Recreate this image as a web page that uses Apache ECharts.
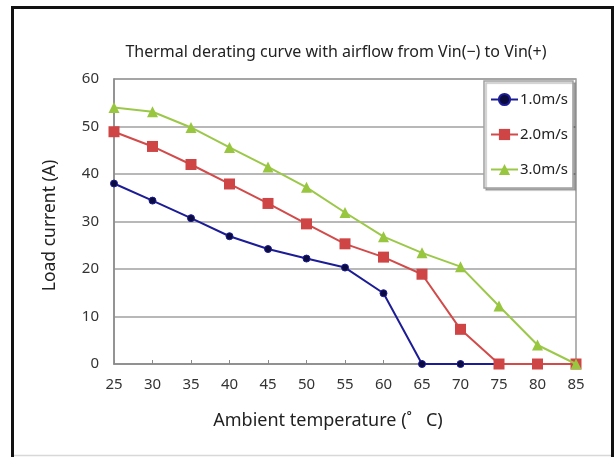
<!DOCTYPE html>
<html>
<head>
<meta charset="utf-8">
<script src="https://cdn.jsdelivr.net/npm/echarts@6/dist/echarts.min.js"></script>
<style>
html,body{margin:0;padding:0;background:#fff;}
#chart{width:615px;height:457px;}
</style>
</head>
<body>
<div id="chart"></div>
<script>
const temperatures = [25, 30, 35, 40, 45, 50, 55, 60, 65, 70, 75, 80, 85];
const airflow1 = [38.0, 34.4, 30.7, 26.9, 24.2, 22.2, 20.3, 14.9, 0, 0, 0, 0, 0];
const airflow2 = [48.9, 45.8, 42.0, 37.9, 33.8, 29.5, 25.3, 22.5, 18.9, 7.3, 0, 0, 0];
const airflow3 = [54.0, 53.1, 49.8, 45.6, 41.5, 37.2, 31.9, 26.8, 23.4, 20.5, 12.2, 4.0, 0];
const seriesNames = ['1.0m/s', '2.0m/s', '3.0m/s'];
const yTicks = [0, 10, 20, 30, 40, 50, 60];

const pair = arr => temperatures.map((t, i) => [t, arr[i]]);
const FONT = 'Noto Sans';

const chart = echarts.init(document.getElementById('chart'), null, {renderer: 'canvas'});
chart.setOption({
  animation: false,
  backgroundColor: '#fff',
  textStyle: {fontFamily: FONT},
  title: {
    text: 'Thermal derating curve with airflow from Vin(\u2212) to Vin(+)',
    left: 331, top: 39, textAlign: 'center',
    textStyle: {fontFamily: FONT, fontSize: 16, fontWeight: 'normal', color: '#222'}
  },
  grid: {left: 114, right: 39, top: 79, bottom: 93, containLabel: false,
    show: true, borderColor: '#9a9a9a', borderWidth: 1.5},
  legend: {
    orient: 'vertical', left: 484, top: 81,
    padding: [11, 5, 11, 6], itemGap: 20, itemWidth: 27, itemHeight: 14,
    backgroundColor: '#fff', borderColor: '#a0a0a0', borderWidth: 1.5,
    shadowColor: 'rgba(0,0,0,0.25)', shadowOffsetX: 2, shadowOffsetY: 2, shadowBlur: 1,
    textStyle: {fontFamily: FONT, fontSize: 15, color: '#222', padding: [0,0,0,-3]},
    data: seriesNames
  },
  xAxis: {
    type: 'value', min: 25, max: 85, interval: 5,
    name: 'Ambient temperature (\u02da   C)', nameLocation: 'middle', nameGap: 48,
    nameTextStyle: {fontFamily: FONT, fontSize: 18, color: '#222', padding: [0, 34, 0, 0]},
    axisLine: {lineStyle: {color: '#8a8a8a', width: 1.5}},
    axisTick: {show: true, inside: true, length: 4, lineStyle: {color: '#8a8a8a'}},
    axisLabel: {fontFamily: FONT, fontSize: 15, color: '#333', margin: 13,
      formatter: v => String(v)},
    splitLine: {show: false}
  },
  yAxis: {
    type: 'value', min: yTicks[0], max: yTicks[yTicks.length - 1], interval: 10,
    name: 'Load current (A)', nameLocation: 'middle', nameGap: 55,
    nameTextStyle: {fontFamily: FONT, fontSize: 17.5, color: '#222', padding: [0, 8, 0, 0]},
    axisLine: {show: true, lineStyle: {color: '#8a8a8a', width: 1.5}},
    axisTick: {show: false},
    axisLabel: {fontFamily: FONT, fontSize: 15, color: '#333', margin: 15},
    splitLine: {show: true, lineStyle: {color: '#a0a0a0', width: 1.5}}
  },
  series: [
    {name: seriesNames[0], type: 'line', data: pair(airflow1),
      symbol: 'circle', symbolSize: 7,
      lineStyle: {color: '#1c1c96', width: 2},
      itemStyle: {color: '#0b0b40', borderColor: '#1c1c96', borderWidth: 1}, z: 2},
    {name: seriesNames[1], type: 'line', data: pair(airflow2),
      symbol: 'rect', symbolSize: 11,
      lineStyle: {color: '#d24a4a', width: 2},
      itemStyle: {color: '#cf4545'}, z: 3},
    {name: seriesNames[2], type: 'line', data: pair(airflow3),
      symbol: 'triangle', symbolSize: 11,
      lineStyle: {color: '#9cc84a', width: 2},
      itemStyle: {color: '#98c63f'}, z: 4}
  ],
  graphic: [
    {type: 'line', shape: {x1: 12.5, y1: 6, x2: 12.5, y2: 457}, style: {stroke: '#111', lineWidth: 3}},
    {type: 'line', shape: {x1: 11, y1: 7.5, x2: 614, y2: 7.5}, style: {stroke: '#111', lineWidth: 3}},
    {type: 'line', shape: {x1: 612.5, y1: 6, x2: 612.5, y2: 457}, style: {stroke: '#111', lineWidth: 3}},
    {type: 'line', shape: {x1: 14, y1: 455.5, x2: 611, y2: 455.5}, style: {stroke: '#d8d8d8', lineWidth: 1.5}}
  ]
});
</script>
</body>
</html>
